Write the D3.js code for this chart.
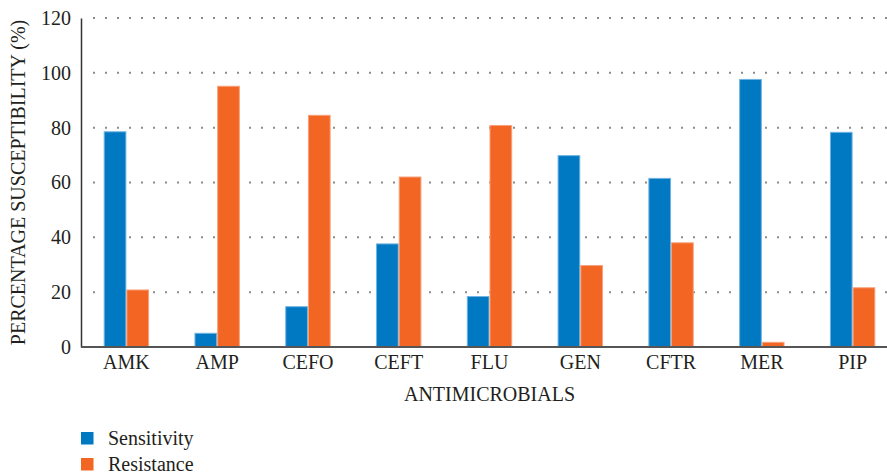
<!DOCTYPE html>
<html>
<head>
<meta charset="utf-8">
<script src="https://cdn.jsdelivr.net/npm/d3@7"></script>
<style>
  html, body { margin: 0; padding: 0; background: #fff; }
  svg { display: block; }
  svg text { font-family: "Liberation Serif", "Times New Roman", serif !important; fill: #231f20; }
</style>
</head>
<body>
<svg id="chart" width="887" height="474"></svg>
<script>
// Antimicrobial susceptibility data (%)
const categories = ["AMK", "AMP", "CEFO", "CEFT", "FLU", "GEN", "CFTR", "MER", "PIP"];
const sensitivity = [78.5, 5.0, 14.7, 37.6, 18.4, 69.8, 61.5, 97.6, 78.3];
const resistance = [20.8, 95.1, 84.5, 62.0, 80.8, 29.7, 38.0, 1.7, 21.6];
const seriesNames = ["Sensitivity", "Resistance"];
const yTicks = [0, 20, 40, 60, 80, 100, 120];

const colors = { Sensitivity: "#0079c2", Resistance: "#f36523" };
const strokes = { Sensitivity: "#6fb4e2", Resistance: "#f7a07a" };
const serif = "'Liberation Serif', 'Times New Roman', serif";
const fontSize = "20px";

const svg = d3.select("#chart");
const plotLeft = 81, bandRight = 898, plotTop = 18, plotBottom = 347, plotRight = 887;

const x = d3.scaleBand().domain(categories).range([plotLeft, bandRight])
  .paddingInner(0.5).paddingOuter(0.25);
const xs = d3.scaleBand().domain(seriesNames).range([0, x.bandwidth()]);
const y = d3.scaleLinear().domain([0, 120]).range([plotBottom, plotTop]);

// dotted horizontal gridlines
svg.append("g")
  .selectAll("line")
  .data(yTicks.filter(d => d > 0))
  .join("line")
  .attr("x1", plotLeft + 12).attr("x2", plotRight)
  .attr("y1", d => y(d)).attr("y2", d => y(d))
  .attr("stroke", "#8a8a8a")
  .attr("stroke-width", 2)
  .attr("stroke-dasharray", "2,10");

// grouped bars
const rows = categories.map((c, i) => ({
  cat: c,
  vals: [
    { key: "Sensitivity", v: sensitivity[i] },
    { key: "Resistance", v: resistance[i] }
  ]
}));

svg.append("g")
  .selectAll("g")
  .data(rows)
  .join("g")
  .attr("transform", d => `translate(${x(d.cat)},0)`)
  .selectAll("rect")
  .data(d => d.vals)
  .join("rect")
  .attr("x", d => xs(d.key) + 0.5)
  .attr("width", xs.bandwidth() - 1)
  .attr("y", d => y(d.v))
  .attr("height", d => y(0) - y(d.v))
  .attr("fill", d => colors[d.key])
  .attr("stroke", d => strokes[d.key])
  .attr("stroke-width", 1);

// y axis
const yAxis = d3.axisLeft(y).tickValues(yTicks).tickSize(0).tickPadding(10);
const gy = svg.append("g").attr("transform", `translate(${plotLeft},0)`).call(yAxis)
  .attr("font-family", null).attr("font-size", null);
gy.select(".domain").attr("stroke", "#333").attr("stroke-width", 1.5);
gy.selectAll("text").style("font-size", fontSize).style("font-family", serif)
  .attr("fill", "#231f20");

// x axis
const xAxis = d3.axisBottom(x).tickSize(0).tickPadding(8);
const gx = svg.append("g").attr("transform", `translate(0,${plotBottom})`).call(xAxis)
  .attr("font-family", null).attr("font-size", null);
gx.select(".domain").remove();
gx.append("line").attr("x1", plotLeft).attr("x2", plotRight).attr("y1", 0).attr("y2", 0)
  .attr("stroke", "#555").attr("stroke-width", 2);
gx.selectAll("text").style("font-size", fontSize).style("font-family", serif)
  .attr("fill", "#231f20");

// axis titles
svg.append("text")
  .attr("x", (plotLeft + bandRight) / 2).attr("y", 401)
  .attr("text-anchor", "middle")
  .style("font-size", fontSize).style("font-family", serif)
  .text("ANTIMICROBIALS");

svg.append("text")
  .attr("transform", `translate(25,${(plotTop + plotBottom) / 2}) rotate(-90)`)
  .attr("text-anchor", "middle")
  .style("font-size", fontSize).style("font-family", serif)
  .text("PERCENTAGE SUSCEPTIBILITY (%)");

// legend
const legend = svg.append("g").attr("transform", "translate(81,432)");
seriesNames.forEach((name, i) => {
  const g = legend.append("g").attr("transform", `translate(0,${i * 26})`);
  g.append("rect").attr("width", 12.5).attr("height", 12.5).attr("fill", colors[name]);
  g.append("text").attr("x", 27).attr("y", 12.5)
    .style("font-size", fontSize).style("font-family", serif).text(name);
});
</script>
</body>
</html>
